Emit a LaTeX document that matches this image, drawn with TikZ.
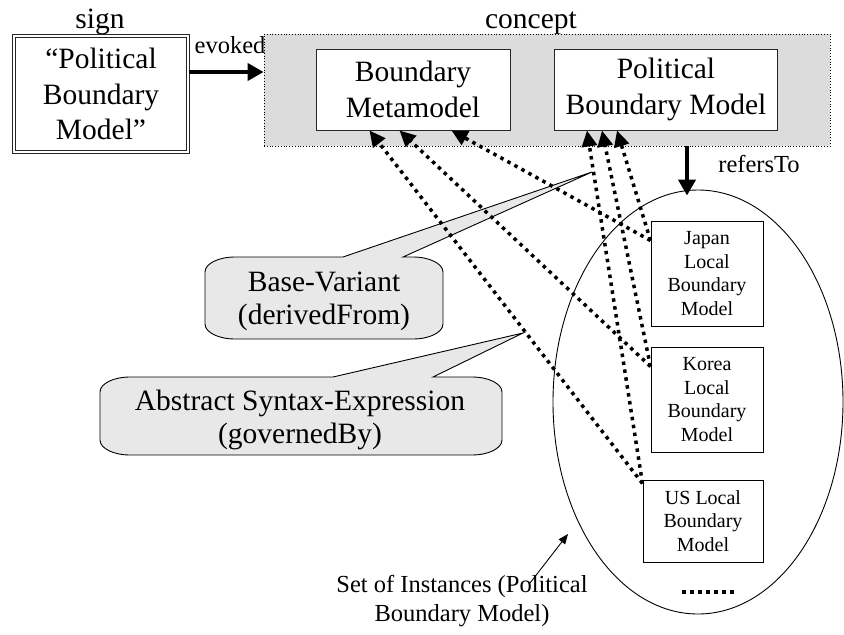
\documentclass[tikz,border=0pt]{standalone}
\usepackage{fontspec}
\setmainfont{Liberation Serif}
\usetikzlibrary{arrows.meta,shapes.geometric,calc}
\definecolor{conceptgray}{HTML}{DCDCDC}
\definecolor{calloutgray}{HTML}{E8E8E8}
\begin{document}
\begin{tikzpicture}[x=1pt,y=-1pt,
  bigfont/.style={font=\fontsize{29.5}{35.5}\selectfont},
  callfont/.style={font=\fontsize{29.5}{33}\selectfont},
  midfont/.style={font=\fontsize{24.5}{29}\selectfont},
  smallfont/.style={font=\fontsize{20}{23.7}\selectfont},
  signbox/.style={draw=black!85, line width=1pt, double=white, double distance=2.5pt, fill=white, inner sep=0pt, align=center, bigfont},
  conceptbox/.style={draw=black, line width=0.8pt, dotted, fill=conceptgray, inner sep=0pt},
  modelbox/.style={draw=black!85, line width=1pt, fill=white, inner sep=0pt, align=center, bigfont},
  instbox/.style={draw=black, line width=1pt, fill=white, inner sep=0pt, align=center, smallfont},
  instset/.style={draw=black, line width=0.9pt, ellipse, inner sep=0pt},
  callout/.style={draw=black, line width=0.9pt, fill=calloutgray},
  bigarrow/.style={line width=4.5pt, -{Triangle[length=16pt,width=17pt]}},
  dotarrow/.style={line width=3.5pt, dash pattern=on 3.5pt off 4.5pt, -{Triangle[length=16pt,width=15pt]}},
  thinarrow/.style={line width=0.9pt, -{Triangle[length=10pt,width=8pt]}}
]
\useasboundingbox (0,0) rectangle (844,635);

% sign
\node[bigfont] (signlbl) at (100,21.5) {sign};
\node[signbox, minimum width=174pt, minimum height=116pt] (sign) at (101,94) {“Political\\Boundary\\Model”};

% concept
\node[bigfont] (conceptlbl) at (531,23) {concept};
\node[conceptbox, minimum width=566pt, minimum height=112pt] (concept) at (547,90) {};
\node[modelbox, minimum width=194pt, minimum height=81pt] (meta) at (413,89.5) {Boundary\\Metamodel};
\node[modelbox, minimum width=223pt, minimum height=81pt] (pbm) at (666,89.5) {Political\\Boundary Model};

% evoked
\node[midfont] (evokedlbl) at (230,45) {evoked};
\coordinate (ev) at ([yshift=22pt]sign.east);
\draw[bigarrow] (ev) -- (ev -| concept.west);

% set of instances
\node[instset, minimum width=290pt, minimum height=424pt] (inst) at (698,402) {};
\node[instbox, minimum width=112pt, minimum height=105pt] (jp) at (707,273.5) {Japan\\Local\\Boundary\\Model};
\node[instbox, minimum width=112pt, minimum height=105pt] (ko) at (707,399.5) {Korea\\Local\\Boundary\\Model};
\node[instbox, minimum width=120pt, minimum height=82pt] (us) at (703,521) {US Local\\Boundary\\Model};
\draw[line width=4pt, dash pattern=on 4pt off 4pt] (682,592) -- (736,592);

% refersTo
\node[midfont] (referslbl) at (759,164) {refersTo};
\coordinate (rt) at ([xshift=140pt]concept.south);
\draw[bigarrow, shorten >=-6pt] (rt) -- (rt |- inst.north);

% set label
\node[midfont, align=center] (setlbl) at (462,601) {Set of Instances (Political\\Boundary Model)};
\coordinate (sa) at (530,583);
\coordinate (sb) at (568,534);
\draw[thinarrow] (sa) -- (sb);

% callouts
\draw[callout] (235,257) -- (343,257) -- (592,172) -- (403,257) -- (413,257)
  .. controls (429.6,257) and (443,263.7) .. (443,272) -- (443,324)
  .. controls (443,332.3) and (429.6,339) .. (413,339) -- (235,339)
  .. controls (218.4,339) and (205,332.3) .. (205,324) -- (205,272)
  .. controls (205,263.7) and (218.4,257) .. (235,257) -- cycle;
\node[callfont, align=center] (bvtext) at (324,301) {Base-Variant\\(derivedFrom)};

\draw[callout] (130,377) -- (333,377) -- (523,333) -- (433,377) -- (472,377)
  .. controls (488.6,377) and (502,383.7) .. (502,392) -- (502,440)
  .. controls (502,448.3) and (488.6,455) .. (472,455) -- (130,455)
  .. controls (113.4,455) and (100,448.3) .. (100,440) -- (100,392)
  .. controls (100,383.7) and (113.4,377) .. (130,377) -- cycle;
\node[callfont, align=center] (astext) at (300,420) {Abstract Syntax-Expression\\(governedBy)};

% dotted relations
\draw[dotarrow] ([yshift=-20pt]jp.north west) -- ([xshift=136pt]meta.south west);
\draw[dotarrow] ([yshift=-20pt]jp.north west) -- ([xshift=63pt]pbm.south west);
\draw[dotarrow] ([yshift=-20pt]ko.north west) -- ([xshift=84pt]meta.south west);
\draw[dotarrow] ([yshift=-20pt]ko.north west) -- ([xshift=48pt]pbm.south west);
\draw[dotarrow] ([yshift=-4pt]us.north west) -- ([xshift=54pt]meta.south west);
\draw[dotarrow] ([yshift=-4pt]us.north west) -- ([xshift=33pt]pbm.south west);
\end{tikzpicture}
\end{document}
